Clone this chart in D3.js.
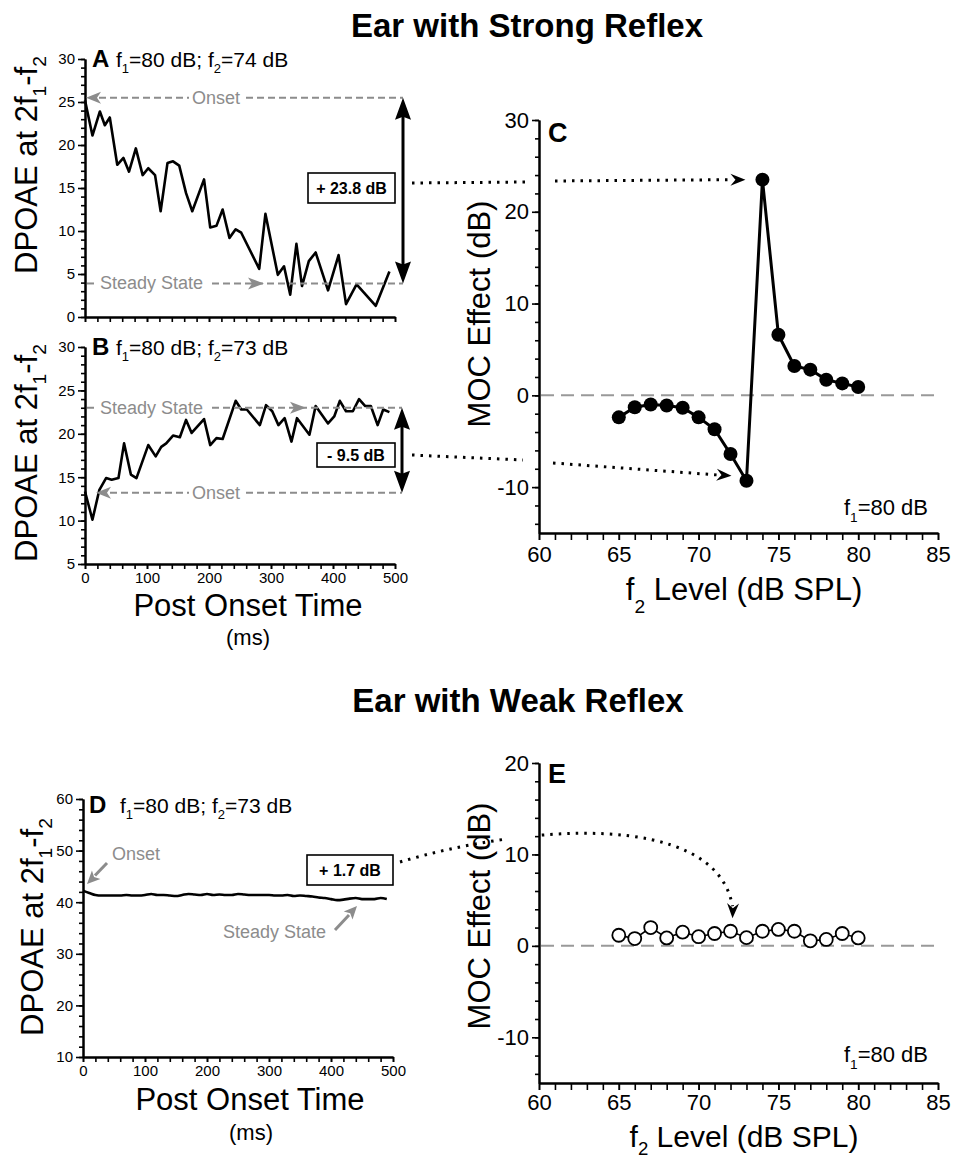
<!DOCTYPE html>
<html><head><meta charset="utf-8">
<script src="https://cdn.jsdelivr.net/npm/d3@7"></script>
<style>body{margin:0;background:#fff} svg{display:block}</style>
</head><body><svg id="c" width="970" height="1159"></svg>
<script>
// ---------- DATA ----------
const timeA=[0,12,24,32,40,52,62,71,82,93,102,113,122,133,142,152,163,173,192,202,212,222,233,243,252,281,291,311,321,331,341,350,361,372,392,409,421,438,469,491];
const dpoaeA=[25.2,21.1,23.9,22.3,23.2,17.7,18.5,16.9,19.6,16.5,17.3,16.5,12.3,17.9,18.1,17.6,14.4,12.3,16.0,10.4,10.6,12.5,9.2,10.2,9.8,5.6,12.0,4.9,5.9,2.6,8.5,3.6,6.5,7.5,3.1,7.2,1.5,3.8,1.3,5.3];
const timeB=[0,12,23,34,43,54,63,74,83,102,114,123,131,142,153,163,172,192,202,212,222,243,252,261,282,292,302,312,322,333,342,362,372,392,402,411,421,432,442,452,461,472,481,491];
const dpoaeB=[13.35,10.1,13.5,14.9,14.7,14.9,18.9,15.3,14.9,18.7,17.4,18.5,18.9,19.8,19.6,21.6,20.1,21.7,18.7,19.5,19.4,23.8,22.8,22.8,21.0,23.3,22.6,21.0,21.8,19.1,21.8,19.9,23.2,21.2,22.0,23.8,22.6,22.6,24.0,23.2,23.2,21.0,22.8,22.5];
const timeD=[0,10,20,30,40,50,60,70,80,90,100,110,120,130,140,150,160,170,180,190,200,210,220,230,240,250,260,270,280,290,300,310,320,330,340,350,360,370,380,390,400,410,420,430,440,450,460,470,480,490];
const dpoaeD=[42.2,41.8,41.4,41.3,41.3,41.3,41.3,41.4,41.3,41.3,41.4,41.6,41.4,41.4,41.3,41.2,41.4,41.6,41.5,41.4,41.6,41.4,41.5,41.4,41.4,41.6,41.5,41.4,41.4,41.4,41.4,41.3,41.3,41.4,41.2,41.3,41.2,41.1,40.9,40.8,40.6,40.4,40.5,40.7,40.8,40.6,40.6,40.6,40.8,40.6];
const f2Levels=[65,66,67,68,69,70,71,72,73,74,75,76,77,78,79,80];
const mocStrong=[-2.4,-1.3,-1.0,-1.1,-1.35,-2.4,-3.7,-6.4,-9.3,23.5,6.6,3.2,2.8,1.7,1.3,0.9];
const mocWeak=[1.16,0.8,2.0,0.87,1.5,1.0,1.35,1.6,0.9,1.6,1.8,1.6,0.55,0.7,1.35,0.87];
const onsetA=25.5, steadyA=3.9, onsetB=13.2, steadyB=23.0;
const effectLabels=["+ 23.8 dB","- 9.5 dB","+ 1.7 dB"];
const timeTicks=[0,100,200,300,400,500];
const levelTicks=[60,65,70,75,80,85];

// ---------- SETUP ----------
const FONT='"Liberation Sans", Arial, Helvetica, sans-serif';
const GRAY='#8c8c8c';
const svg=d3.select('#c');

const xA=d3.scaleLinear().domain([0,500]).range([85,395]);
const yA=d3.scaleLinear().domain([0,30]).range([317,59]);
const yB=d3.scaleLinear().domain([5,30]).range([564,347]);
const xD=d3.scaleLinear().domain([0,500]).range([83,393]);
const yD=d3.scaleLinear().domain([10,60]).range([1057,799]);
const xC=d3.scaleLinear().domain([60,85]).range([539,938]);
const yC=d3.scaleLinear().domain([-15,30]).range([533,120]);
const yE=d3.scaleLinear().domain([-15,20]).range([1083,763]);

function rich(x,y,parts,size,opts={}){
  const t=svg.append('text').attr('x',x).attr('y',y).attr('font-size',size)
    .attr('font-family',FONT).attr('text-anchor',opts.anchor||'start')
    .attr('font-weight',opts.weight||'normal').attr('fill',opts.fill||'#000');
  if(opts.transform) t.attr('transform',opts.transform);
  const sd=(opts.subDy||0.3)*size;
  let shifted=false;
  parts.forEach(p=>{
    const sub=Array.isArray(p); const s=sub?p[0]:p;
    const ts=t.append('tspan').text(s);
    if(sub){ ts.attr('font-size',size*0.62); if(!shifted){ts.attr('dy',sd);shifted=true;} }
    else if(shifted){ ts.attr('dy',-sd); shifted=false; }
  });
  return t;
}

function yAxis(x,scale,minor,major,fs,lmin,lmaj,pad){
  const g=svg.append('g').attr('transform',`translate(${x},0)`);
  g.append('g').call(d3.axisLeft(scale).tickValues(minor).tickSize(lmin).tickSizeOuter(0).tickFormat(''));
  g.append('g').call(d3.axisLeft(scale).tickValues(major).tickSize(lmaj).tickSizeOuter(0).tickPadding(pad).tickFormat(d=>String(d)));
  g.selectAll('g').attr('font-family',FONT).attr('font-size',fs);
  g.selectAll('path.domain').attr('stroke-width',2).attr('stroke','#000');
  g.selectAll('line').attr('stroke-width',1.6).attr('stroke','#000');
  g.selectAll('text').attr('fill','#000');
}
function xAxis(y,scale,minor,major,fs,len,pad,labels){
  const g=svg.append('g').attr('transform',`translate(0,${y})`);
  g.append('g').call(d3.axisBottom(scale).tickValues(minor).tickSize(len).tickSizeOuter(0).tickFormat(''));
  g.append('g').call(d3.axisBottom(scale).tickValues(major).tickSize(len).tickSizeOuter(0).tickPadding(pad).tickFormat(d=>labels?String(d):''));
  g.selectAll('g').attr('font-family',FONT).attr('font-size',fs);
  g.selectAll('path.domain').attr('stroke-width',2).attr('stroke','#000');
  g.selectAll('line').attr('stroke-width',1.6).attr('stroke','#000');
  g.selectAll('text').attr('fill','#000');
}
function head(x,y,ang,len,hw,notch,color){
  svg.append('path').attr('d',`M0,0L${-len},${-hw}L${-len+notch},0L${-len},${hw}Z`)
    .attr('transform',`translate(${x},${y}) rotate(${ang})`).attr('fill',color);
}
function seg(x1,y1,x2,y2,color,w,dash){
  const l=svg.append('line').attr('x1',x1).attr('y1',y1).attr('x2',x2).attr('y2',y2)
    .attr('stroke',color).attr('stroke-width',w);
  if(dash) l.attr('stroke-dasharray',dash);
  return l;
}
function dpoaeLabel(x,cy){
  rich(0,0,["DPOAE at 2f",["1"],"-f",["2"]],31,{anchor:'middle',transform:`translate(${x},${cy}) rotate(-90)`});
}
function mocLabel(x,cy){
  rich(0,0,["MOC Effect (dB)"],31,{anchor:'middle',transform:`translate(${x},${cy}) rotate(-90)`});
}

// ---------- TITLES ----------
rich(527,37,["Ear with Strong Reflex"],33,{anchor:'middle',weight:'bold'});
rich(518,712,["Ear with Weak Reflex"],33,{anchor:'middle',weight:'bold'});

// ---------- PANEL A ----------
const msMinor=d3.range(0,501,20);
yAxis(xA(0),yA,d3.range(0,31,1),d3.range(0,31,5),15,4,7,3);
xAxis(yA(0),xA,msMinor,timeTicks,15,5,3,false);
dpoaeLabel(37,165);
rich(92,67,["A"],24,{weight:'bold'});
rich(116,67,["f",["1"],"=80 dB; f",["2"],"=74 dB"],21);
svg.append('path').datum(timeA.map((t,i)=>[t,dpoaeA[i]]))
  .attr('d',d3.line().x(d=>xA(d[0])).y(d=>yA(d[1])))
  .attr('fill','none').attr('stroke','#000').attr('stroke-width',2.6).attr('stroke-linejoin','round');
{
  const y=yA(onsetA);
  head(xA(0)+1,y,180,15,6,4,GRAY);
  seg(xA(0)+14,y,189,y,GRAY,2,'7,4');
  rich(216,y+6,["Onset"],18,{anchor:'middle',fill:GRAY});
  seg(246,y,403,y,GRAY,2,'7,4');
  const ys=yA(steadyA);
  seg(xA(0)+2,ys,98,ys,GRAY,2,'7,4');
  rich(100,ys+6,["Steady State"],18,{fill:GRAY});
  seg(212,ys,403,ys,GRAY,2,'7,4');
  head(264,ys,0,16,6,4,GRAY);
  seg(403,y+18,403,ys-18,'#000',3);
  head(403,y,-90,22,8,3,'#000');
  head(403,ys,90,22,8,3,'#000');
  svg.append('rect').attr('x',308).attr('y',173).attr('width',87).attr('height',30)
    .attr('fill','#fff').attr('stroke','#000').attr('stroke-width',1.6);
  rich(351.5,194,[effectLabels[0]],16,{anchor:'middle',weight:'bold'});
}

// ---------- PANEL B ----------
yAxis(xA(0),yB,d3.range(5,31,1),d3.range(5,31,5),15,4,7,3);
xAxis(yB(5),xA,msMinor,timeTicks,15,5,3,true);
dpoaeLabel(37,453);
rich(92,355,["B"],24,{weight:'bold'});
rich(116,355,["f",["1"],"=80 dB; f",["2"],"=73 dB"],21);
rich(248,616,["Post Onset Time"],31,{anchor:'middle'});
rich(248,645,["(ms)"],22,{anchor:'middle'});
svg.append('path').datum(timeB.map((t,i)=>[t,dpoaeB[i]]))
  .attr('d',d3.line().x(d=>xA(d[0])).y(d=>yB(d[1])))
  .attr('fill','none').attr('stroke','#000').attr('stroke-width',2.6).attr('stroke-linejoin','round');
{
  const ys=yB(steadyB);
  seg(xA(0)+2,ys,98,ys,GRAY,2,'7,4');
  rich(100,ys+6,["Steady State"],18,{fill:GRAY});
  seg(212,ys,402,ys,GRAY,2,'7,4');
  head(306,ys,0,16,6,4,GRAY);
  const y=yB(onsetB);
  head(96,y,180,15,6,4,GRAY);
  seg(110,y,189,y,GRAY,2,'7,4');
  rich(216,y+6,["Onset"],18,{anchor:'middle',fill:GRAY});
  seg(246,y,402,y,GRAY,2,'7,4');
  seg(402,ys+18,402,y-18,'#000',3);
  head(402,ys,-90,22,8,3,'#000');
  head(402,y,90,22,8,3,'#000');
  svg.append('rect').attr('x',317).attr('y',443).attr('width',78).attr('height',24)
    .attr('fill','#fff').attr('stroke','#000').attr('stroke-width',1.6);
  rich(356,460.5,[effectLabels[1]],16,{anchor:'middle',weight:'bold'});
}

// ---------- PANEL C ----------
yAxis(xC(60),yC,d3.range(-14,31,2),[-10,0,10,20,30],22,4,7,3);
xAxis(yC(-15),xC,d3.range(60,86,1),levelTicks,22,7,6,true);
mocLabel(490,314);
rich(548,142,["C"],27,{weight:'bold'});
rich(744,600,["f",["2"]," Level (dB SPL)"],31,{anchor:'middle',subDy:0.42});
rich(928,515,["f",["1"],"=80 dB"],22,{anchor:'end'});
seg(xC(60)+2,yC(0),xC(85),yC(0),'#999',2,'13,7');
svg.append('path').datum(f2Levels.map((f,i)=>[f,mocStrong[i]]))
  .attr('d',d3.line().x(d=>xC(d[0])).y(d=>yC(d[1])))
  .attr('fill','none').attr('stroke','#000').attr('stroke-width',3).attr('stroke-linejoin','round');
svg.append('g').selectAll('circle').data(f2Levels.map((f,i)=>[f,mocStrong[i]])).join('circle')
  .attr('cx',d=>xC(d[0])).attr('cy',d=>yC(d[1])).attr('r',7).attr('fill','#000');
{
  const tx=xC(f2Levels[9])-17, ty=yC(mocStrong[9]);
  seg(412,183,526,182,'#000',3,'2.5,6');
  seg(555,181,tx-12,ty,'#000',3,'2.5,6');
  head(tx,ty,0,15,6,5,'#000');
  const bx=xC(f2Levels[8])-15, by=yC(mocStrong[8])-5;
  seg(412,455,523,460,'#000',3,'2.5,6');
  seg(553,463,bx-12,by-0.6,'#000',3,'2.5,6');
  head(bx,by,4,15,6,5,'#000');
}

// ---------- PANEL D ----------
yAxis(xD(0),yD,d3.range(10,61,2),d3.range(10,61,10),15,4,7,3);
xAxis(yD(10),xD,msMinor,timeTicks,15,5,3,true);
dpoaeLabel(43,927);
rich(89,813,["D"],24,{weight:'bold'});
rich(120,813,["f",["1"],"=80 dB; f",["2"],"=73 dB"],21);
rich(250,1110,["Post Onset Time"],31,{anchor:'middle'});
rich(251,1140,["(ms)"],22,{anchor:'middle'});
svg.append('path').datum(timeD.map((t,i)=>[t,dpoaeD[i]]))
  .attr('d',d3.line().curve(d3.curveMonotoneX).x(d=>xD(d[0])).y(d=>yD(d[1])))
  .attr('fill','none').attr('stroke','#000').attr('stroke-width',2.6);
rich(112,860,["Onset"],18,{fill:GRAY});
seg(107,863,95,875.5,GRAY,3);
head(87,884,135,13,6,3,GRAY);
rich(223,938,["Steady State"],18,{fill:GRAY});
seg(335,930,349,915,GRAY,3);
head(357,906,-47,13,6,3,GRAY);
svg.append('rect').attr('x',307).attr('y',855).attr('width',86).attr('height',30)
  .attr('fill','#fff').attr('stroke','#000').attr('stroke-width',1.6);
rich(350,876,[effectLabels[2]],16,{anchor:'middle',weight:'bold'});

// ---------- PANEL E ----------
yAxis(xC(60),yE,d3.range(-14,21,2),[-10,0,10,20],22,4,7,3);
xAxis(yE(-15),xC,d3.range(60,86,1),levelTicks,22,7,4,true);
mocLabel(490,916);
rich(548,783,["E"],27,{weight:'bold'});
rich(744,1147,["f",["2"]," Level (dB SPL)"],30,{anchor:'middle',subDy:0.25});
rich(928,1062,["f",["1"],"=80 dB"],22,{anchor:'end'});
seg(xC(60)+2,yE(0),xC(85),yE(0),'#999',2,'13,7');
svg.append('path').datum(f2Levels.map((f,i)=>[f,mocWeak[i]]))
  .attr('d',d3.line().x(d=>xC(d[0])).y(d=>yE(d[1])))
  .attr('fill','none').attr('stroke','#000').attr('stroke-width',1.6);
svg.append('g').selectAll('circle').data(f2Levels.map((f,i)=>[f,mocWeak[i]])).join('circle')
  .attr('cx',d=>xC(d[0])).attr('cy',d=>yE(d[1])).attr('r',6.5).attr('fill','#fff')
  .attr('stroke','#000').attr('stroke-width',1.8);
{
  const tx=xC(f2Levels[7])+2, ty=yE(mocWeak[7])-13;
  const defs=svg.append('defs');
  defs.append('clipPath').attr('id','cl1').append('rect').attr('x',0).attr('y',700).attr('width',505).attr('height',400);
  defs.append('clipPath').attr('id','cl2').append('rect').attr('x',537).attr('y',700).attr('width',433).attr('height',400);
  const d=`M400,862 C520,826 715,808 ${tx},${ty-12}`;
  ['cl1','cl2'].forEach(c=>svg.append('path').attr('d',d).attr('fill','none').attr('stroke','#000')
    .attr('stroke-width',3).attr('stroke-dasharray','2.5,6').attr('clip-path',`url(#${c})`));
  head(tx,ty,92,15,6,5,'#000');
}
</script></body></html>
